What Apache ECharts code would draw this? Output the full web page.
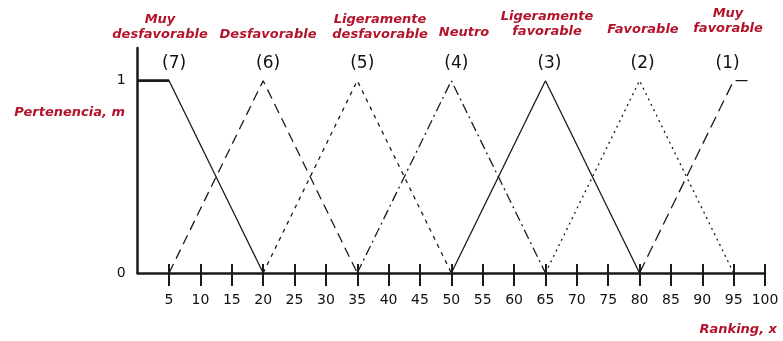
<!DOCTYPE html>
<html>
<head>
<meta charset="utf-8">
<script src="https://cdn.jsdelivr.net/npm/echarts@6/dist/echarts.min.js"></script>
<style>
  html, body { margin: 0; padding: 0; background: #fff; }
  #chart { width: 783px; height: 341px; }
</style>
</head>
<body>
<div id="chart"></div>
<script>
// valores del ranking que llevan marca y etiqueta en el eje x
const xTicks = [5, 10, 15, 20, 25, 30, 35, 40, 45, 50, 55, 60, 65, 70, 75, 80, 85, 90, 95, 100]
const yTicks = [0, 1]

// funciones de pertenencia (x, m)
const set7 = [[0, 1], [5, 1], [20, 0]]
const set6 = [[5, 0], [20, 1], [35, 0]]
const set5 = [[20, 0], [35, 1], [50, 0]]
const set4 = [[35, 0], [50, 1], [65, 0]]
const set3 = [[50, 0], [65, 1], [80, 0]]
const set2 = [[65, 0], [80, 1], [95, 0]]
const set1 = [[80, 0], [95, 1], [97.5, 1]]

const setNames = ['(7)', '(6)', '(5)', '(4)', '(3)', '(2)', '(1)']
const termLabels = ['Muy\ndesfavorable', 'Desfavorable', 'Ligeramente\ndesfavorable', 'Neutro',
  'Ligeramente\nfavorable', 'Favorable', 'Muy\nfavorable']

const ink = '#1a1a1a'
const red = '#b3142b'
const redFont = 'italic bold 13px "DejaVu Sans"'

function mkSeries(name, pts, peak, lineType, offset) {
  return {
    name: name,
    type: 'line',
    symbol: 'circle',
    symbolSize: 0,
    showSymbol: true,
    silent: true,
    clip: false,
    lineStyle: { color: ink, width: 1.3, type: lineType },
    data: pts.map((p, i) => {
      if (i !== peak) return p
      return {
        value: p,
        label: {
          show: true,
          position: 'top',
          distance: 9,
          offset: offset,
          formatter: name,
          fontFamily: 'DejaVu Sans',
          fontSize: 17,
          color: '#111'
        }
      }
    })
  }
}

const chart = echarts.init(document.getElementById('chart'))

// textos en rojo: términos lingüísticos y nombres de ejes
const graphics = []
const termX = [160, 268, 380, 464, 547, 643, 728]
const termY = [12, 27, 12, 25, 9, 22, 6]
termLabels.forEach((t, i) => {
  graphics.push({
    type: 'text',
    x: termX[i],
    y: termY[i],
    silent: true,
    style: {
      text: t,
      textAlign: 'center',
      textVerticalAlign: 'top',
      fill: red,
      font: redFont,
      lineHeight: 15
    }
  })
})
graphics.push({
  type: 'text', x: 125, y: 106, silent: true,
  style: { text: 'Pertenencia, m', textAlign: 'right', textVerticalAlign: 'top', fill: red, font: redFont }
})
graphics.push({
  type: 'text', x: 777, y: 323, silent: true,
  style: { text: 'Ranking, x', textAlign: 'right', textVerticalAlign: 'top', fill: red, font: redFont }
})

chart.setOption({
  animation: false,
  grid: { left: 137.7, right: 18, top: 48, bottom: 68 },
  xAxis: [
    {
      type: 'value',
      min: 0,
      max: 100,
      interval: 5,
      axisLine: { lineStyle: { color: ink, width: 2.5 } },
      axisTick: { length: 13, customValues: xTicks, lineStyle: { color: ink, width: 2 } },
      axisLabel: {
        margin: 20,
        color: '#111',
        fontFamily: 'DejaVu Sans',
        fontSize: 14,
        customValues: xTicks
      },
      splitLine: { show: false }
    },
    {
      type: 'value',
      position: 'bottom',
      min: 0,
      max: 100,
      interval: 5,
      axisLine: { show: false },
      axisTick: { inside: true, length: 9, customValues: xTicks, lineStyle: { color: ink, width: 2 } },
      axisLabel: { show: false },
      splitLine: { show: false }
    }
  ],
  yAxis: {
    type: 'value',
    min: 0,
    max: 1.17,
    interval: 1,
    axisLine: { show: true, lineStyle: { color: ink, width: 2.5 } },
    axisTick: { show: false },
    axisLabel: {
      margin: 12,
      color: '#111',
      fontFamily: 'DejaVu Sans',
      fontSize: 14,
      customValues: yTicks
    },
    splitLine: { show: false }
  },
  graphic: graphics,
  series: [
    mkSeries(setNames[0], set7, 1, 'solid', [5, 0]),
    {
      // tramo superior de (7), más grueso
      type: 'line', symbol: 'none', silent: true,
      lineStyle: { color: ink, width: 2.8 },
      data: set7.slice(0, 2)
    },
    mkSeries(setNames[1], set6, 1, [10, 6], [5, 0]),
    mkSeries(setNames[2], set5, 1, [4, 5], [5, 0]),
    mkSeries(setNames[3], set4, 1, [10, 4, 2, 4], [5, 0]),
    mkSeries(setNames[4], set3, 1, 'solid', [4, 0]),
    mkSeries(setNames[5], set2, 1, [2, 4], [3, 0]),
    mkSeries(setNames[6], set1, 1, [12, 6], [-6, 0])
  ]
})
</script>
</body>
</html>
